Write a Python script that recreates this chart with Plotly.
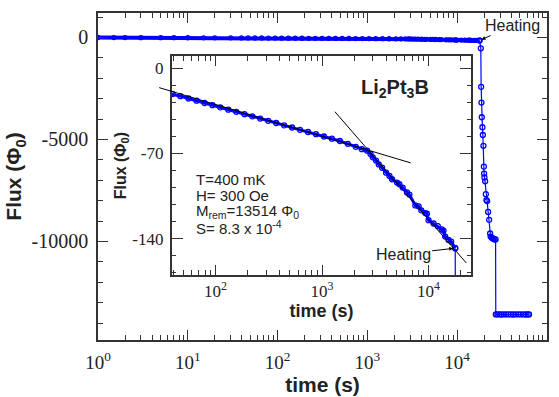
import math
import plotly.graph_objects as go

# ---------------- data ----------------
# relaxation at 400 mK (before heating)
relax_time_s = [1, 1.5, 2, 3, 5, 7, 10, 15, 20, 30,
                39.6, 46.9, 55.9, 66.5, 79, 93.8, 111, 132, 157, 187, 222, 263, 313, 372,
                441, 524, 622, 739, 878, 1043, 1238, 1471, 1747, 2075, 2364, 2650, 2853,
                2997, 3215, 3410, 3664, 3991, 4295, 4540, 5055, 5321, 5715, 6270, 6604,
                7516, 8072, 8551, 9318, 9644, 10000, 11140, 12220, 13310, 13810, 14320,
                15380, 16290, 17780]
relax_flux = [-2, -4, -6, -8, -10, -12, -13, -15, -17, -19,
              -21.0, -22.8, -24.7, -26.5, -28.4, -30.2, -32.0, -33.9, -35.7, -37.6, -39.4,
              -41.2, -43.1, -44.9, -46.8, -48.6, -50.5, -52.3, -54.1, -56.0, -57.8, -59.7,
              -62.0, -64.5, -66.4, -67.7, -70.4, -73.1, -75.8, -79.0, -81.7, -85.8, -88.5,
              -91.2, -93.9, -95.3, -98.0, -102.0, -103.8, -112.7, -113.5, -116.8, -119.0,
              -119.5, -124.9, -127.6, -129.8, -132.5, -133.5, -138.4, -141.1, -142.5, -147.9]

# heating (starts at the last relaxation point)
heat_time_s = [17780, 18320, 18480, 18620, 18800, 19090, 19310, 19600, 19810, 19950, 20110,
               20470, 20840, 21170, 21540, 22100, 22680, 23270, 23570, 24180, 24800, 25440,
               26100, 26770,
               26900, 28000, 29500, 31000, 33000, 35000, 37000, 39500, 42000, 45000, 48000,
               51000, 54500, 58000, 61000, 63100]
heat_flux = [-147.9, -530, -2420, -3190, -3910, -4400, -4780, -5310, -6330, -6670, -6860,
             -7050, -7680, -7970, -8020, -8550, -8940, -9610, -9760, -9810, -9850, -9860,
             -9900, -9900,
             -13575, -13570, -13575, -13580, -13575, -13570, -13575, -13575, -13580, -13575,
             -13570, -13575, -13575, -13580, -13575, -13575]

# logarithmic fits (end points of the drawn straight lines)
fit1_time_s = [28.7, 6790]
fit1_flux = [-15.4, -77.7]
fit2_time_s = [1321, 22650]
fit2_flux = [-35.6, -160.2]

main_x_ticks = [1, 10, 100, 1000, 10000, 100000]
main_x_labels = ["10<sup>0</sup>", "10<sup>1</sup>", "10<sup>2</sup>", "10<sup>3</sup>",
                 "10<sup>4</sup>", "10<sup>5</sup>"]
main_y_ticks = [0, -5000, -10000]
main_y_labels = ["0", "-5000", "-10000"]
inset_x_ticks = [100, 1000, 10000]
inset_x_labels = ["10<sup>2</sup>", "10<sup>3</sup>", "10<sup>4</sup>"]
inset_y_ticks = [0, -70, -140]
inset_y_labels = ["0", "-70", "-140"]

# ---------------- style ----------------
BLUE = "#0000ff"
AX = "#333333"
SERIF = "Liberation Serif, Times New Roman, serif"
SANS = "Liberation Sans, Arial, sans-serif"


def minor_log(e0, e1):
    return [m * 10 ** e for e in range(e0, e1) for m in range(2, 10)]


fig = go.Figure()

for xa, ya in (("x", "y"), ("x2", "y2")):
    fig.add_trace(go.Scatter(
        x=relax_time_s, y=relax_flux, xaxis=xa, yaxis=ya, mode="lines+markers",
        line=dict(color=BLUE, width=4 if xa == "x" else 3),
        marker=dict(symbol="circle-open", size=4 if xa == "x" else 5, color=BLUE,
                    line=dict(width=1.3)),
        showlegend=False))
    fig.add_trace(go.Scatter(
        x=heat_time_s, y=heat_flux, xaxis=xa, yaxis=ya, mode="lines+markers",
        line=dict(color=BLUE, width=1.2),
        marker=dict(symbol="circle-open", size=5, color=BLUE, line=dict(width=1.3)),
        showlegend=False))

fig.add_trace(go.Scatter(x=fit2_time_s, y=fit2_flux, xaxis="x2", yaxis="y2", mode="lines",
                         line=dict(color="black", width=1), showlegend=False))

common = dict(showgrid=False, zeroline=False, showline=True, linecolor=AX, linewidth=1.5,
              mirror="ticks", ticks="inside", tickcolor=AX, tickwidth=1.2)

fig.update_layout(
    width=559, height=397,
    margin=dict(l=98, r=10, t=13, b=52),
    paper_bgcolor="white", plot_bgcolor="white",
    xaxis=dict(type="log", range=[0, 5], tickvals=main_x_ticks, ticktext=main_x_labels,
               ticklen=10, tickfont=dict(family=SERIF, size=19, color="#222"),
               ticklabelstandoff=4,
               minor=dict(tickvals=minor_log(0, 5), ticks="inside", ticklen=5,
                          tickcolor=AX, tickwidth=1.2),
               title=dict(text="<b>time (s)</b>", font=dict(family=SANS, size=21, color="#222"),
                          standoff=0),
               **common),
    yaxis=dict(range=[-14830, 1200], tickvals=main_y_ticks, ticktext=main_y_labels,
               ticklen=10, tickfont=dict(family=SERIF, size=20, color="#222"),
               ticklabelstandoff=4,
               minor=dict(dtick=1000, tick0=0, ticks="inside", ticklen=5,
                          tickcolor=AX, tickwidth=1.2),
               title=dict(text="<b>Flux (Φ<sub>0</sub>)</b>",
                          font=dict(family=SANS, size=21, color="#222"), standoff=4),
               **common),
    xaxis2=dict(type="log", domain=[0.164, 0.8315], anchor="y2",
                range=[math.log10(38.8), math.log10(25200)],
                tickvals=inset_x_ticks, ticktext=inset_x_labels, ticklen=10,
                tickfont=dict(family=SERIF, size=17, color="#222"),
                minor=dict(tickvals=minor_log(1, 5), ticks="inside", ticklen=5,
                           tickcolor=AX, tickwidth=1.2),
                title=dict(text="<b>time (s)</b>", font=dict(family=SANS, size=18, color="#222"),
                           standoff=0),
                **common),
    yaxis2=dict(domain=[0.1988, 0.8675], anchor="x2", range=[-170, 10],
                tickvals=inset_y_ticks, ticktext=inset_y_labels, ticklen=12,
                tickfont=dict(family=SERIF, size=17, color="#222"),
                ticklabelstandoff=3,
                minor=dict(dtick=14, tick0=0, ticks="inside", ticklen=5,
                           tickcolor=AX, tickwidth=1.2),
                title=dict(text="<b>Flux (Φ<sub>0</sub>)</b>",
                           font=dict(family=SANS, size=16, color="#222"), standoff=2),
                **common),
)

ann_font = dict(family=SANS, size=15, color="#222")
fig.add_annotation(x=math.log10(fit1_time_s[1]), y=fit1_flux[1], xref="x2", yref="y2",
                   ax=math.log10(fit1_time_s[0]), ay=fit1_flux[0], axref="x2", ayref="y2",
                   text="", showarrow=True, arrowhead=0, arrowwidth=1, arrowcolor="black",
                   standoff=0, startstandoff=0)
# Heating markers
fig.add_annotation(x=math.log10(heat_time_s[0]), y=heat_flux[0], xref="x", yref="y",
                   text="Heating", font=dict(family=SANS, size=16, color="#222"),
                   showarrow=True, arrowhead=2, arrowsize=0.8, arrowwidth=1,
                   arrowcolor="black", ax=33, ay=-15, standoff=2)
fig.add_annotation(x=math.log10(heat_time_s[0]), y=heat_flux[0], xref="x2", yref="y2",
                   text="Heating", font=dict(family=SANS, size=16, color="#222"),
                   showarrow=True, arrowhead=2, arrowsize=0.8, arrowwidth=1,
                   arrowcolor="black", ax=-52, ay=6, standoff=2)

for txt, yy in (("T=400 mK", 0.492), ("H= 300 Oe", 0.443),
                ("M<sub>rem</sub>=13514 Φ<sub>0</sub>", 0.392), ("S= 8.3 x 10<sup>-4</sup>", 0.343)):
    fig.add_annotation(x=0.215, y=yy, xref="paper", yref="paper", text=txt, showarrow=False,
                       xanchor="left", yanchor="middle", font=ann_font, borderpad=0)
fig.add_annotation(x=0.661, y=0.77, xref="paper", yref="paper",
                   text="<b>Li<sub>2</sub>Pt<sub>3</sub>B</b>", showarrow=False,
                   xanchor="center", yanchor="middle",
                   font=dict(family=SANS, size=20, color="#222"))

fig.write_html("out.html", config={"displayModeBar": False},
               post_script="document.body.style.margin='0';document.body.style.padding='0';")
